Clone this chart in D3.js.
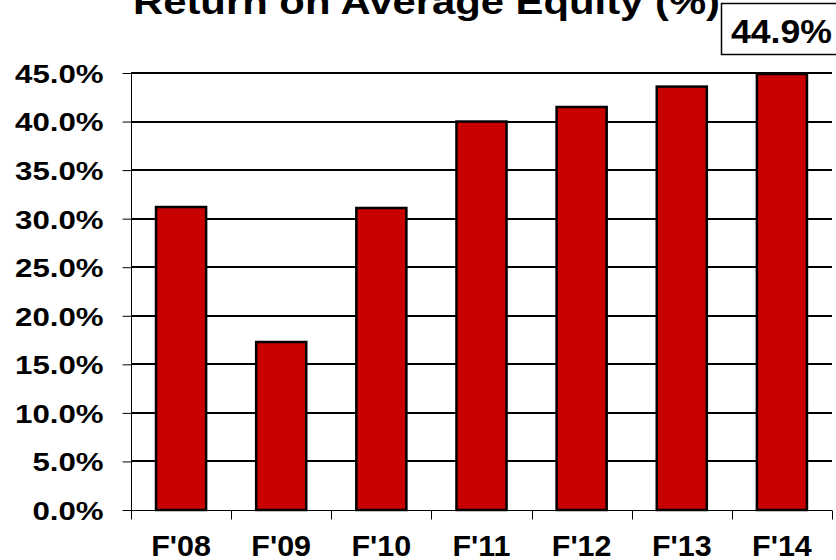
<!DOCTYPE html>
<html>
<head>
    <meta charset="utf-8" />
    <title>Return on Average Equity</title>
    <script src="https://d3js.org/d3.v7.min.js"></script>
    <style>
        body { margin: 0; background: #fff; }
        text { font-family: Arial, "Liberation Sans", sans-serif; font-weight: bold; }
    </style>
</head>
<body>
    <svg width="836" height="560"></svg>
    <script>
        const years = ["F'08", "F'09", "F'10", "F'11", "F'12", "F'13", "F'14"];
        const roe = [31.2, 17.3, 31.1, 40.0, 41.5, 43.6, 44.9];
        const yTicks = [0, 5, 10, 15, 20, 25, 30, 35, 40, 45];
        const calloutLabel = "44.9%";

        const svg = d3.select("svg");
        const margin = { top: 73, bottom: 50, left: 131, right: 4 };
        const width = +svg.attr("width");
        const height = +svg.attr("height");

        // the original text is a little wider than plain Arial
        function stretch(sel, k) {
            sel.each(function () {
                const w = this.getComputedTextLength();
                this.setAttribute("textLength", w * k);
                this.setAttribute("lengthAdjust", "spacingAndGlyphs");
            });
        }

        const x = d3.scaleBand()
            .domain(years)
            .range([margin.left, width - margin.right])
            .paddingInner(0.5)
            .paddingOuter(0.25);
        const xTickScale = d3.scaleLinear()
            .domain([0, years.length])
            .range([margin.left, width - margin.right]);
        const y = d3.scaleLinear()
            .domain([0, 45])
            .range([height - margin.bottom, margin.top]);

        // gridlines
        svg.append("g")
            .selectAll("line")
            .data(yTicks.filter(d => d > 0))
            .enter()
            .append("line")
            .attr("x1", margin.left)
            .attr("x2", width - margin.right)
            .attr("y1", d => Math.round(y(d)))
            .attr("y2", d => Math.round(y(d)))
            .attr("stroke", "#000")
            .attr("stroke-width", 2);

        // bars
        svg.append("g")
            .selectAll("rect")
            .data(roe)
            .enter()
            .append("rect")
            .attr("x", (d, i) => x(years[i]))
            .attr("y", d => y(d))
            .attr("width", x.bandwidth())
            .attr("height", d => y(0) - y(d))
            .attr("fill", "#c80000")
            .attr("stroke", "#000")
            .attr("stroke-width", 2.5);

        // y axis
        const yAxis = svg.append("g")
            .attr("transform", "translate(" + (margin.left + 0.5) + ",0)")
            .call(d3.axisLeft(y).tickValues(yTicks).tickSize(9).tickPadding(19)
                .tickFormat(d => d3.format(".1f")(d) + "%"));
        yAxis.select(".domain").attr("d", "M0," + y(45) + "V" + y(0)).attr("stroke", "#000");
        yAxis.selectAll(".tick line").attr("stroke", "#000");
        yAxis.selectAll("text").attr("font-size", 26).attr("fill", "#000")
            .attr("font-family", "Arial, 'Liberation Sans', sans-serif")
            .attr("dy", "0.36em");
        stretch(yAxis.selectAll("text"), 1.2);

        // x axis
        const xAxisG = svg.append("g")
            .attr("transform", "translate(0," + (y(0) + 0.5) + ")");
        xAxisG.append("line")
            .attr("x1", margin.left).attr("x2", width - margin.right)
            .attr("stroke", "#000");
        xAxisG.selectAll(".xt")
            .data(d3.range(years.length + 1))
            .enter()
            .append("line")
            .attr("x1", d => Math.round(xTickScale(d)) + 0.5)
            .attr("x2", d => Math.round(xTickScale(d)) + 0.5)
            .attr("y1", 0).attr("y2", 9)
            .attr("stroke", "#000");
        const xLabels = xAxisG.selectAll("text")
            .data(years)
            .enter()
            .append("text")
            .attr("x", d => x(d) + x.bandwidth() / 2)
            .attr("y", 45)
            .attr("text-anchor", "middle")
            .attr("font-size", 29)
            .text(d => d);
        stretch(xLabels, 1.05);

        // title (partly above the top edge, as in the original)
        svg.append("text")
            .attr("x", 133)
            .attr("y", 14)
            .attr("font-size", 35)
            .attr("textLength", 587)
            .attr("lengthAdjust", "spacingAndGlyphs")
            .text("Return on Average Equity (%)");

        // callout box
        svg.append("rect")
            .attr("x", 721.5)
            .attr("y", 3.5)
            .attr("width", 120)
            .attr("height", 51)
            .attr("fill", "#fff")
            .attr("stroke", "#000")
            .attr("stroke-width", 1.5);
        svg.append("text")
            .attr("x", 731)
            .attr("y", 43)
            .attr("font-size", 34)
            .attr("textLength", 101)
            .attr("lengthAdjust", "spacingAndGlyphs")
            .text(calloutLabel);
    </script>
</body>
</html>
